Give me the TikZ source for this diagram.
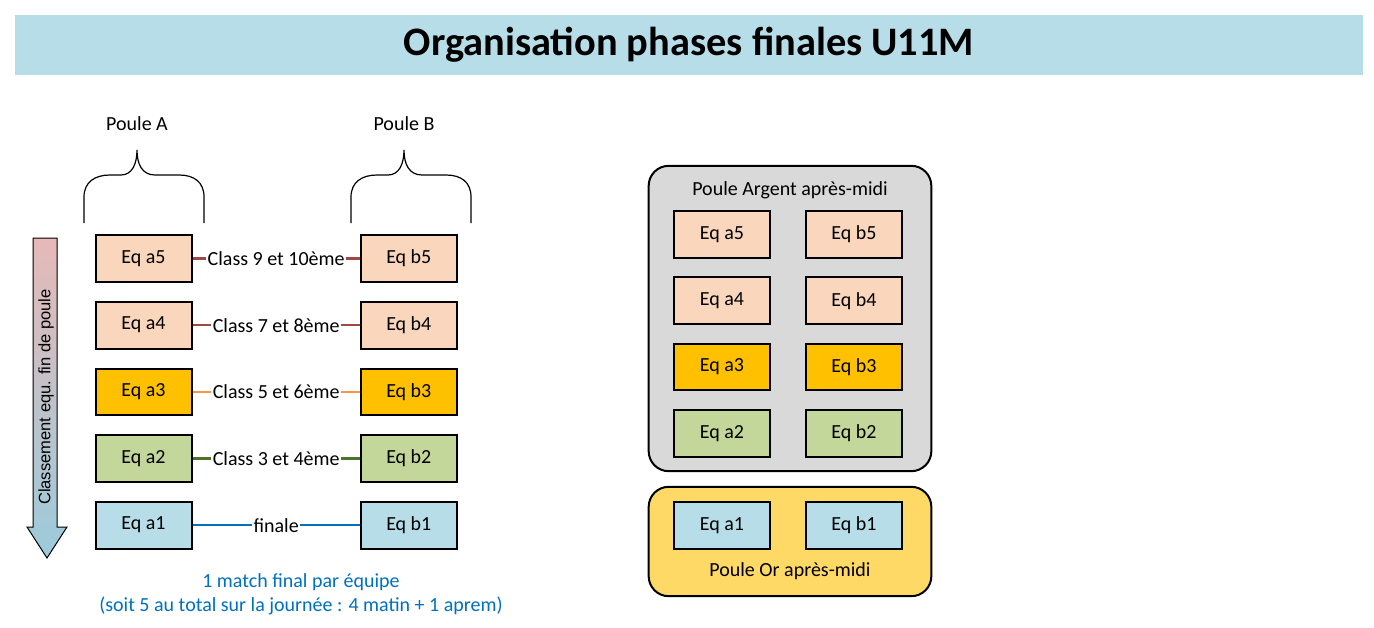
\documentclass[tikz,border=0pt]{standalone}
\usepackage{fontspec}
\setmainfont{Carlito}
\newfontfamily\arialfont{Liberation Sans}
\usetikzlibrary{positioning}

\definecolor{bandeau}{HTML}{B7DEE8}
\definecolor{peche}{HTML}{FAD7BC}
\definecolor{orange}{HTML}{FFC000}
\definecolor{vert}{HTML}{C4D79B}
\definecolor{bleu}{HTML}{B7DEE8}
\definecolor{gris}{HTML}{D9D9D9}
\definecolor{or}{HTML}{FFD966}
\definecolor{lbrun}{HTML}{9C4A44}
\definecolor{lorange}{HTML}{F79646}
\definecolor{lvert}{HTML}{4F7326}
\definecolor{lbleu}{HTML}{0070C0}
\definecolor{rose}{HTML}{E6B9B8}
\definecolor{ciel}{HTML}{9BCBDB}

\tikzset{
	accolade/.pic={
		\draw[line width=0.9pt] (-53,73) -- (-53,47) .. controls (-53,32) and (-42,25) .. (-27,25)
		-- (-16,25) .. controls (-5,25) and (0,14) .. (0,0)
		.. controls (0,14) and (5,25) .. (18,25) -- (42,25)
		.. controls (57,25) and (67,32) .. (67,47) -- (67,73);
	}
}

\begin{document}
\begin{tikzpicture}[x=0.75pt,y=-0.75pt,
	txt/.style={font=\fontsize{15}{18}\selectfont},
	eq/.style={txt, rectangle, draw=black, line width=1.5pt,
	minimum width=72pt, minimum height=35pt, inner sep=0pt},
	poule/.style={txt, rectangle, rounded corners=15pt, draw=black, line width=1.5pt,
	minimum width=212pt},
	lien/.style={line width=1.6pt},
	lbl/.style={txt, fill=white, inner sep=1pt}
	]
	\useasboundingbox (0,0) rectangle (1374,628);
	
	% titre
	\node[fill=bandeau, minimum width=1011pt, minimum height=45pt] (bandeau) at (689,45) {};
	\node[font=\bfseries\fontsize{30.3}{36}\selectfont] (titre) at (bandeau) {Organisation phases finales U11M};
	
	% poules du matin
	\node[txt] (pA) at (137,124) {Poule A};
	\node[txt] (pB) at (404,124) {Poule B};
	\path (pA) ++(0,26) pic {accolade};
	\path (pB) ++(0,26) pic {accolade};
	
	\node[eq, fill=peche] (a5) at (143.5,258.5) {Eq a5};
	\node[eq, fill=peche] (a4) [below=13.5pt of a5] {Eq a4};
	\node[eq, fill=orange] (a3) [below=13.5pt of a4] {Eq a3};
	\node[eq, fill=vert] (a2) [below=13.5pt of a3] {Eq a2};
	\node[eq, fill=bleu] (a1) [below=13.5pt of a2] {Eq a1};
	
	\node[eq, fill=peche] (b5) [right=125.5pt of a5] {Eq b5};
	\node[eq, fill=peche] (b4) [right=125.5pt of a4] {Eq b4};
	\node[eq, fill=orange] (b3) [right=125.5pt of a3] {Eq b3};
	\node[eq, fill=vert] (b2) [right=125.5pt of a2] {Eq b2};
	\node[eq, fill=bleu] (b1) [right=125.5pt of a1] {Eq b1};
	
	\draw[lien, lbrun] (a5) -- node[lbl, text=black] {Class 9 et 10ème} (b5);
	\draw[lien, lbrun] (a4) -- node[lbl, text=black] {Class 7 et 8ème} (b4);
	\draw[lien, lorange] (a3) -- node[lbl, text=black] {Class 5 et 6ème} (b3);
	\draw[lien, lvert] (a2) -- node[lbl, text=black] {Class 3 et 4ème} (b2);
	\draw[lien, lbleu] (a1) -- node[lbl, text=black] {finale} (b1);
	
	% fleche du classement
	\shade[top color=rose, bottom color=ciel, draw=black, line width=0.75pt]
	(33,238) -- (57,238) -- (57,527) -- (67,527) -- (47,558) -- (27,527) -- (33,527) -- cycle;
	\node[rotate=90, font=\arialfont\fontsize{12.4}{14}\selectfont] (classement) at (46,397)
	{Classement equ. fin de poule};
	
	\node[txt, text=lbleu, align=center] (note) at (301,594)
	{1 match final par équipe\\(soit 5 au total sur la journée : 4 matin + 1 aprem)};
	
	% poules de l'apres-midi
	\node[poule, fill=gris, minimum height=229pt] (argent) at (790,318.5) {};
	\node[txt] (targent) at (790,190) {Poule Argent après-midi};
	\node[poule, fill=or, minimum height=82pt] (or) at (790,541.5) {};
	\node[txt] (tor) at (790,571) {Poule Or après-midi};
	
	\node[eq, fill=peche] (ga5) at (722,234.5) {Eq a5};
	\node[eq, fill=peche] (ga4) [below=13.2pt of ga5] {Eq a4};
	\node[eq, fill=orange] (ga3) [below=13.2pt of ga4] {Eq a3};
	\node[eq, fill=vert] (ga2) [below=13.2pt of ga3] {Eq a2};
	\node[eq, fill=peche] (gb5) [right=25.5pt of ga5] {Eq b5};
	\node[eq, fill=peche] (gb4) [right=25.5pt of ga4] {Eq b4};
	\node[eq, fill=orange] (gb3) [right=25.5pt of ga3] {Eq b3};
	\node[eq, fill=vert] (gb2) [right=25.5pt of ga2] {Eq b2};
	
	\node[eq, fill=bleu] (oa1) at (722,525.5) {Eq a1};
	\node[eq, fill=bleu] (ob1) [right=25.5pt of oa1] {Eq b1};
\end{tikzpicture}
\end{document}
